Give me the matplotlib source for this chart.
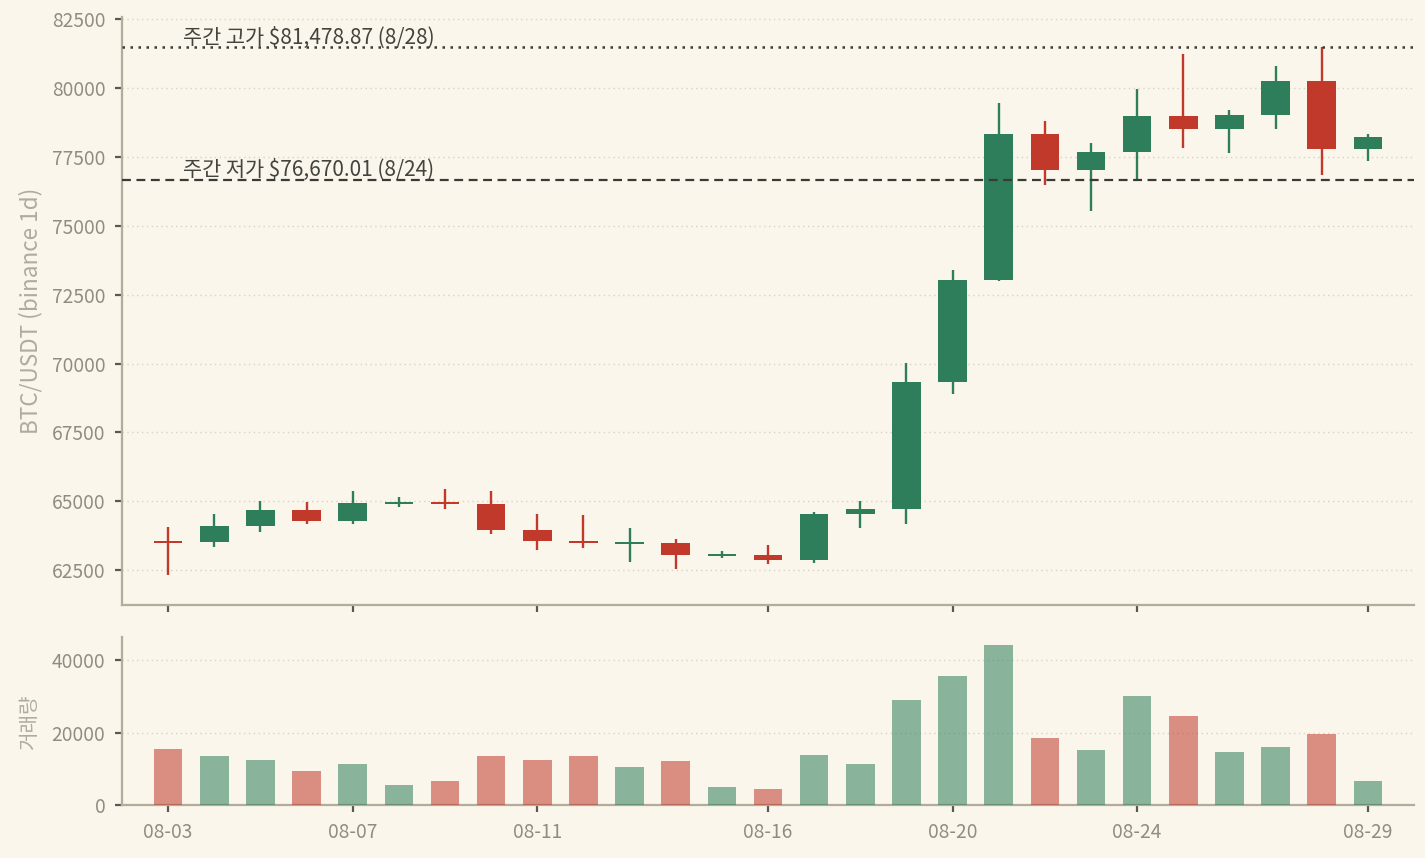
import matplotlib
matplotlib.use("Agg")
import matplotlib.pyplot as plt
from matplotlib.ticker import MultipleLocator

plt.rcParams['font.family'] = ['Noto Sans CJK KR', 'DejaVu Sans']

dates = ["08-03", "08-04", "08-05", "08-06", "08-07", "08-08", "08-09", "08-10", "08-11",
         "08-12", "08-13", "08-14", "08-15", "08-16", "08-17", "08-18", "08-19", "08-20",
         "08-21", "08-22", "08-23", "08-24", "08-25", "08-26", "08-27", "08-28", "08-29"]
opens = [63540, 63520, 64090, 64680, 64290, 64930, 64960, 64880, 63970, 63570, 63470, 63490, 63030,
         63060, 62870, 64530, 64710, 69320, 73020, 78330, 77020, 77700, 78980, 78520, 79020, 80250, 77800]
closes = [63520, 64090, 64680, 64290, 64930, 64960, 64880, 63970, 63570, 63470, 63490, 63030, 63060,
          62870, 64530, 64710, 69320, 73020, 78330, 77020, 77700, 78980, 78520, 79020, 80250, 77800, 78220]
highs = [64070, 64520, 65010, 64980, 65380, 65160, 65450, 65380, 64520, 64480, 64010, 63610, 63190,
         63400, 64590, 65010, 70010, 73390, 79480, 78810, 78010, 79980, 81250, 79220, 80820, 81478.87, 78320]
lows = [62320, 63320, 63870, 64170, 64170, 64780, 64710, 63810, 63230, 63290, 62780, 62540, 62920,
        62710, 62740, 64010, 64170, 68890, 73000, 76470, 75530, 76670.01, 77840, 77630, 78530, 76860, 77370]
volumes = [15360, 13420, 12580, 9530, 11470, 5640, 6750, 13420, 12580, 13420, 10640, 12100, 5080,
           4530, 13970, 11470, 28970, 35640, 44250, 18420, 15090, 30090, 24530, 14530, 15920, 19530, 6750]
tick_dates = ["08-03", "08-07", "08-11", "08-16", "08-20", "08-24", "08-29"]

week_high = 81478.87
week_high_label = "주간 고가 $81,478.87 (8/28)"
week_low = 76670.01
week_low_label = "주간 저가 $76,670.01 (8/24)"

BG = "#faf6ec"
GREEN = "#2e7d5b"
RED = "#c0392b"
TICKC = "#8f8c82"
SPINE = "#b3ac98"
GRID = "#d9d3c5"

fig = plt.figure(figsize=(14.25, 8.58), dpi=100, facecolor=BG)
ax = fig.add_axes([0.0856, 0.2949, 0.9067, 0.6851], facecolor=BG)
axv = fig.add_axes([0.0856, 0.0618, 0.9067, 0.1958], facecolor=BG, sharex=ax)

x = list(range(len(dates)))
colors = [GREEN if c >= o else RED for o, c in zip(opens, closes)]
width = 0.62

for i in x:
    ax.vlines(i, lows[i], highs[i], color=colors[i], linewidth=1.7, zorder=2)
    bottom = min(opens[i], closes[i])
    h = abs(closes[i] - opens[i])
    if h < 70:
        bottom = (opens[i] + closes[i]) / 2 - 35
        h = 70
    ax.bar(i, h, bottom=bottom, width=width, color=colors[i], linewidth=0, zorder=3)

ax.axhline(week_high, color="#3a3a36", linestyle=(0, (1, 2.2)), linewidth=1.8, zorder=4)
ax.axhline(week_low, color="#3a3a36", linestyle=(0, (4, 2.5)), linewidth=1.6, zorder=4)
ax.annotate(week_high_label, xy=(0.33, week_high), xytext=(0, 3), textcoords="offset points",
            va="baseline", ha="left", fontsize=15, color="#44443f")
ax.annotate(week_low_label, xy=(0.33, week_low), xytext=(0, 3), textcoords="offset points",
            va="baseline", ha="left", fontsize=15, color="#44443f")

ax.set_ylim(61230, 82580)
ax.set_xlim(-1, 27)
ax.yaxis.set_major_locator(MultipleLocator(2500))
ax.set_ylabel("BTC/USDT (binance 1d)", fontsize=16.2, color="#aeaba1", labelpad=7)

axv.bar(x, volumes, width=width, color=colors, alpha=0.55, linewidth=0, zorder=3)
axv.set_ylim(0, 46500)
axv.yaxis.set_major_locator(MultipleLocator(20000))
axv.set_ylabel("거래량", fontsize=14.5, color="#aeaba1", labelpad=8)

tick_pos = [dates.index(d) for d in tick_dates]
axv.set_xticks(tick_pos)
axv.set_xticklabels(tick_dates)
plt.setp(ax.get_xticklabels(), visible=False)

for a in (ax, axv):
    for s in ("top", "right"):
        a.spines[s].set_visible(False)
    for s in ("left", "bottom"):
        a.spines[s].set_color(SPINE)
        a.spines[s].set_linewidth(1.6)
    a.tick_params(axis="both", direction="out", length=5, width=1.6, color="#5a5852",
                  labelcolor=TICKC, labelsize=13.8, pad=7)
    a.grid(axis="y", linestyle=(0, (1, 2.5)), color=GRID, linewidth=1.0, zorder=0)
    a.set_axisbelow(True)

fig.savefig("out.png", dpi=100, facecolor=BG)
